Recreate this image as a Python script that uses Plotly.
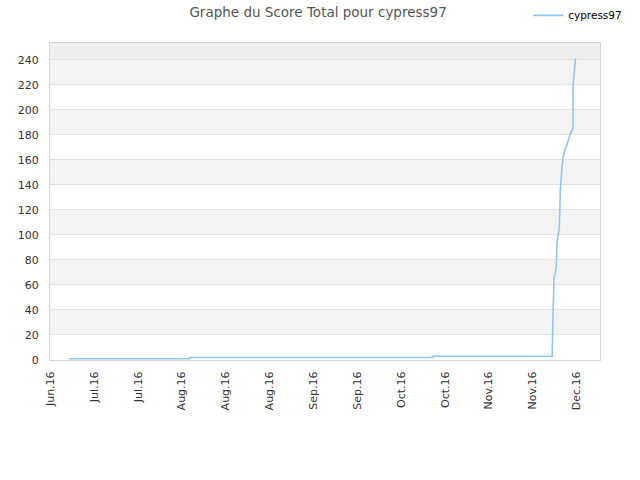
import plotly.graph_objects as go

# score history
dates = [
    '2016-06-23 07:00', '2016-08-03 16:00', '2016-08-03 16:00',
    '2016-10-25 17:00', '2016-10-25 17:00', '2016-12-05 16:00',
    '2016-12-05 16:30', '2016-12-05 21:30', '2016-12-06 06:00',
    '2016-12-06 17:00', '2016-12-07 01:00', '2016-12-07 07:00',
    '2016-12-07 17:00', '2016-12-08 02:00', '2016-12-08 10:00',
    '2016-12-08 16:00', '2016-12-08 23:30', '2016-12-09 08:00',
    '2016-12-09 16:00', '2016-12-10 03:00', '2016-12-10 17:00',
    '2016-12-11 06:00', '2016-12-11 20:00', '2016-12-12 10:00',
    '2016-12-12 18:00', '2016-12-12 19:00', '2016-12-13 02:00',
    '2016-12-13 07:00', '2016-12-13 15:00',
]
scores = [
    1, 1, 2,
    2, 3, 3,
    12, 45, 65,
    70, 74, 94,
    102, 106, 135,
    145, 154, 161,
    165, 169, 172,
    177, 181, 183.5,
    185, 220, 228,
    236, 241,
]

tick_dates = ['2016-06-17', '2016-07-02', '2016-07-17', '2016-08-01',
              '2016-08-16', '2016-08-31', '2016-09-15', '2016-09-30',
              '2016-10-15', '2016-10-30', '2016-11-14', '2016-11-29',
              '2016-12-14']
tick_labels = ['Jun.16', 'Jul.16', 'Jul.16', 'Aug.16', 'Aug.16', 'Aug.16',
               'Sep.16', 'Sep.16', 'Oct.16', 'Oct.16', 'Nov.16', 'Nov.16',
               'Dec.16']
y_ticks = list(range(0, 241, 20))
y_max = 253.5

fig = go.Figure()
fig.add_trace(go.Scatter(x=dates, y=scores, mode='lines', name='cypress97',
                         line=dict(color='#96c5f3', width=1.6)))

# alternating background bands between gridlines
for i, lo in enumerate(y_ticks):
    if lo == y_ticks[-1]:
        color, hi = '#eeeeee', y_max
    elif i % 2 == 1:
        color, hi = '#f3f3f3', lo + 20
    else:
        continue
    fig.add_shape(type='rect', xref='paper', yref='y', x0=0, x1=1,
                  y0=lo, y1=hi, fillcolor=color, line_width=0, layer='below')

fig.update_layout(
    width=640, height=480,
    margin=dict(l=50, r=40, t=40, b=120),
    paper_bgcolor='white', plot_bgcolor='white',
    font=dict(family='DejaVu Sans', size=11, color='#333333'),
    title=dict(text='Graphe du Score Total pour cypress97',
               x=0.497, xanchor='center', y=0.975, yanchor='middle',
               font=dict(size=13.5, color='#555555')),
    legend=dict(orientation='h', xref='container', yref='container',
                x=0.98, xanchor='right', y=0.968, yanchor='middle',
                itemwidth=30, font=dict(size=10.5, color='#000000'),
                bgcolor='rgba(0,0,0,0)'),
    showlegend=True,
)
fig.update_xaxes(type='date', range=['2016-06-16 22:00', '2016-12-22 00:00'],
                 tickmode='array', tickvals=tick_dates, ticktext=tick_labels,
                 tickangle=-90, showgrid=False, showline=True, mirror=True,
                 linecolor='#d6d6d6', linewidth=1, ticks='',
                 ticklabelstandoff=6)
fig.update_yaxes(range=[0, y_max], tickmode='array', tickvals=y_ticks,
                 showgrid=True, gridcolor='#e2e2e2', gridwidth=1,
                 showline=True, mirror=True, linecolor='#d6d6d6',
                 linewidth=1, ticks='', ticklabelstandoff=8,
                 zeroline=False)

fig.write_html('out.html', config={'displayModeBar': False},
               post_script="document.body.style.margin='0';")
